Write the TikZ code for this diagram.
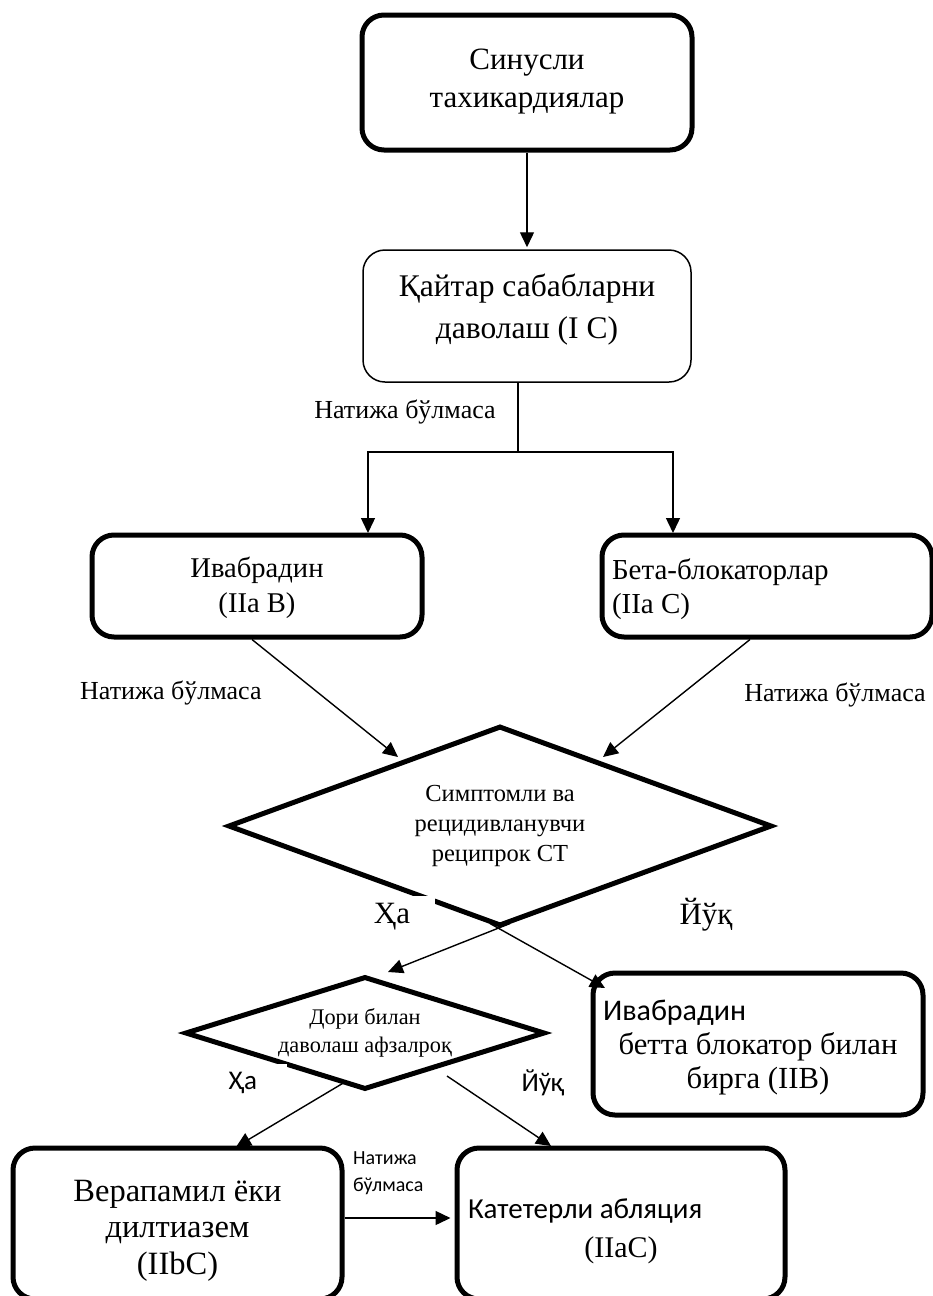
\documentclass[tikz,border=0pt]{standalone}
\usepackage{fontspec}
\setmainfont{Liberation Serif}
\newfontfamily\sansf{Carlito}
\usetikzlibrary{shapes.geometric,arrows.meta}
\newcommand{\vshiftc}[2]{\raisebox{#1}[\height][\depth]{\begin{tabular}{@{}c@{}}#2\end{tabular}}}
\newcommand{\vshiftl}[2]{\raisebox{#1}[\height][\depth]{\begin{tabular}{@{}l@{}}#2\end{tabular}}}
\begin{document}
\begin{tikzpicture}[x=1pt,y=-1pt,
  thickbox/.style={draw,line width=5pt,rounded corners=22pt,inner sep=0pt},
  thinbox/.style={draw,line width=1.5pt,rounded corners=22pt,inner sep=0pt},
  dia/.style={draw,diamond,line width=5pt,inner sep=0pt},
  arr/.style={line width=1.4pt,-{Triangle[length=15pt,width=14pt]}},
  ln/.style={line width=1.4pt},
  lbl/.style={inner sep=0pt}
]
\useasboundingbox (0,0) rectangle (933,1296);

% boxes
\node[thickbox, minimum width=330pt, minimum height=135pt,
      font=\fontsize{31}{38}\selectfont] (b1) at (527,82.5)
      {\vshiftc{2pt}{Синусли\\тахикардиялар}};
\node[thinbox, minimum width=328pt, minimum height=132pt,
      font=\fontsize{31.5}{42}\selectfont] (b2) at (527,316)
      {\vshiftc{7pt}{Қайтар сабабларни\\даволаш (I C)}};
\node[thickbox, minimum width=330pt, minimum height=102pt,
      font=\fontsize{28.6}{35}\selectfont] (b3) at (257,586)
      {\vshiftc{-2pt}{Ивабрадин\\(IIa B)}};
\node[thickbox, minimum width=330pt, minimum height=102pt,
      font=\fontsize{29}{34}\selectfont] (b4) at (767,586)
      {\vshiftl{-4pt}{\makebox[310pt][l]{Бета-блокаторлар}\\\makebox[310pt][l]{(IIa C)}}};

% diamonds
\node[dia, minimum width=544pt, minimum height=200pt, shape aspect=2.72, align=center,
      font=\fontsize{24.5}{30}\selectfont] (d1) at (500,826) {Симптомли ва\\рецидивланувчи\\реципрок СТ};
\node[dia, minimum width=360pt, minimum height=113pt, shape aspect=3.3, align=center,
      font=\fontsize{22.3}{28}\selectfont] (d2) at (365,1033) {Дори билан\\даволаш афзалроқ};

\node[thickbox, minimum width=330pt, minimum height=142pt,
      font=\fontsize{30.7}{34}\selectfont] (b5) at (758,1044)
      {\vshiftl{-4pt}{{\sansf\fontsize{30}{34}\selectfont Ивабрадин}\\\makebox[310pt]{бетта блокатор билан}\\\makebox[310pt]{бирга (IIB)}}};
\node[thickbox, minimum width=329pt, minimum height=151pt,
      font=\fontsize{32.5}{36.5}\selectfont] (b6) at (177.5,1223.5)
      {\vshiftc{-7pt}{Верапамил ёки\\дилтиазем\\(IIbC)}};
\node[thickbox, minimum width=328pt, minimum height=151pt,
      font=\fontsize{30}{39}\selectfont] (b7) at (621,1223.5)
      {\vshiftl{-7pt}{{\sansf\fontsize{29}{39}\selectfont Катетерли абляция}\\\makebox[306pt]{(IIaC)}}};

% labels
\node[lbl, font=\fontsize{26}{30}\selectfont] (n1) at (405,412) {Натижа бўлмаса};
\node[lbl, font=\fontsize{26}{30}\selectfont, anchor=west] (n2) at (80,693) {Натижа бўлмаса};
\node[lbl, font=\fontsize{26}{30}\selectfont] (n3) at (835,695) {Натижа бўлмаса};
\node[fill=white, inner sep=0pt, minimum width=86pt, minimum height=42pt,
      font=\fontsize{31}{36}\selectfont] (ha1) at (392,917) {Ҳа};
\node[lbl, font=\fontsize{31}{36}\selectfont] (yuq1) at (706,915) {Йўқ};
\node[fill=white, inner sep=0pt, minimum width=88pt, minimum height=38pt,
      font=\sansf\fontsize{27}{32}\selectfont] (ha2) at (243,1083) {Ҳа};
\node[lbl, font=\sansf\fontsize{27}{32}\selectfont] (yuq2) at (543,1083) {Йўқ};
\node[lbl, font=\sansf\fontsize{20}{27}\selectfont, align=left, anchor=west] (n4) at (353,1173.5) {Натижа\\бўлмаса};

% connectors
\draw[arr, shorten >=2pt] (b1.south) -- (b2.north);
\coordinate (split) at (518,452);
\draw[ln] (b2.south -| split) -- (split);
\coordinate (b3in) at (368,533);
\coordinate (b4in) at (673,533);
\draw[arr] (split) -| (b3in);
\draw[arr] (split) -| (b4in);

\coordinate (d1inL) at (398,757);
\coordinate (d1inR) at (603,757);
\draw[arr] (b3.south -| 252,0) -- (d1inL);
\draw[arr] (b4.south -| 750,0) -- (d1inR);

\coordinate (d2in) at (388,972);
\coordinate (b5in) at (605,988);
\draw[arr] ([xshift=10pt,yshift=5pt]d1.south) -- (d2in);
\draw[arr] ([xshift=-10pt,yshift=5pt]d1.south) -- (b5in);

\coordinate (b6in) at (236,1147);
\coordinate (b7in) at (551,1146);
\draw[arr] ([xshift=-20pt,yshift=10pt]d2.south) -- (b6in);
\draw[arr] ([xshift=82pt,yshift=16pt]d2.south) -- (b7in);

\draw[arr, shorten >=4pt] (b6.east |- 0,1218) -- (b7.west |- 0,1218);
\end{tikzpicture}
\end{document}
